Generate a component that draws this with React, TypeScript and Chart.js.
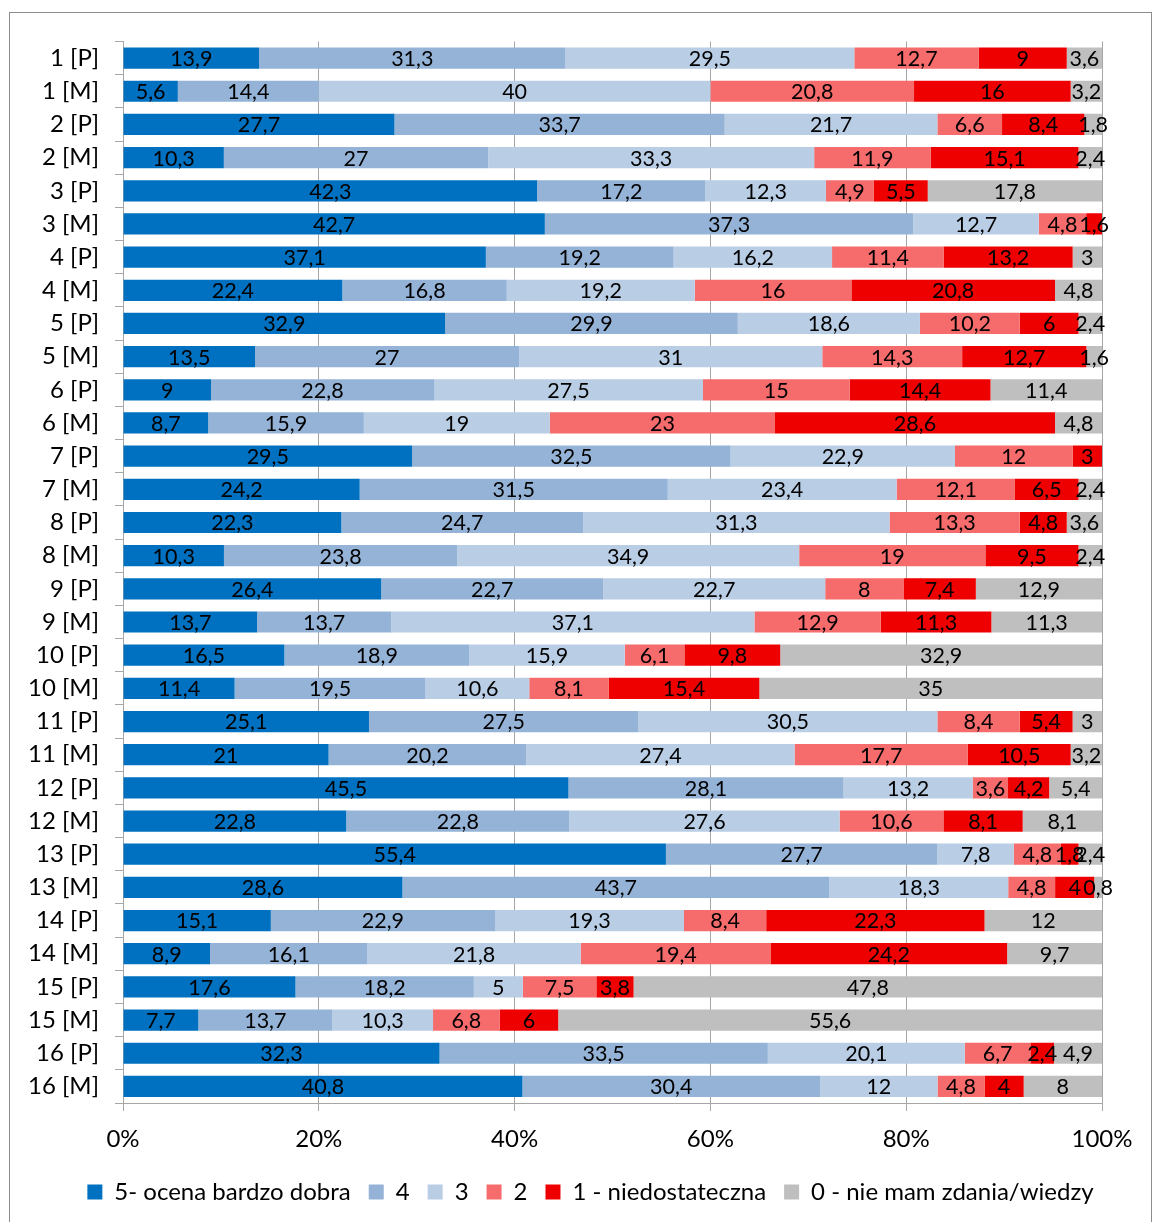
import React, { useEffect, useRef } from 'react';
import { Chart, registerables } from 'chart.js';

Chart.register(...registerables);

const categories = [
  '1 [P]', '1 [M]', '2 [P]', '2 [M]', '3 [P]', '3 [M]', '4 [P]', '4 [M]',
  '5 [P]', '5 [M]', '6 [P]', '6 [M]', '7 [P]', '7 [M]', '8 [P]', '8 [M]',
  '9 [P]', '9 [M]', '10 [P]', '10 [M]', '11 [P]', '11 [M]', '12 [P]', '12 [M]',
  '13 [P]', '13 [M]', '14 [P]', '14 [M]', '15 [P]', '15 [M]', '16 [P]', '16 [M]',
];

const seriesNames = ['5- ocena bardzo dobra', '4', '3', '2', '1 - niedostateczna', '0 - nie mam zdania/wiedzy'];
const seriesColors = ['#0070C0', '#95B3D7', '#B9CDE5', '#F66B6B', '#EE0000', '#BFBFBF'];

const grade5 = [13.9, 5.6, 27.7, 10.3, 42.3, 42.7, 37.1, 22.4, 32.9, 13.5, 9, 8.7, 29.5, 24.2, 22.3, 10.3, 26.4, 13.7, 16.5, 11.4, 25.1, 21, 45.5, 22.8, 55.4, 28.6, 15.1, 8.9, 17.6, 7.7, 32.3, 40.8];
const grade4 = [31.3, 14.4, 33.7, 27, 17.2, 37.3, 19.2, 16.8, 29.9, 27, 22.8, 15.9, 32.5, 31.5, 24.7, 23.8, 22.7, 13.7, 18.9, 19.5, 27.5, 20.2, 28.1, 22.8, 27.7, 43.7, 22.9, 16.1, 18.2, 13.7, 33.5, 30.4];
const grade3 = [29.5, 40, 21.7, 33.3, 12.3, 12.7, 16.2, 19.2, 18.6, 31, 27.5, 19, 22.9, 23.4, 31.3, 34.9, 22.7, 37.1, 15.9, 10.6, 30.5, 27.4, 13.2, 27.6, 7.8, 18.3, 19.3, 21.8, 5, 10.3, 20.1, 12];
const grade2 = [12.7, 20.8, 6.6, 11.9, 4.9, 4.8, 11.4, 16, 10.2, 14.3, 15, 23, 12, 12.1, 13.3, 19, 8, 12.9, 6.1, 8.1, 8.4, 17.7, 3.6, 10.6, 4.8, 4.8, 8.4, 19.4, 7.5, 6.8, 6.7, 4.8];
const grade1 = [9, 16, 8.4, 15.1, 5.5, 1.6, 13.2, 20.8, 6, 12.7, 14.4, 28.6, 3, 6.5, 4.8, 9.5, 7.4, 11.3, 9.8, 15.4, 5.4, 10.5, 4.2, 8.1, 1.8, 4, 22.3, 24.2, 3.8, 6, 2.4, 4];
const grade0 = [3.6, 3.2, 1.8, 2.4, 17.8, 0, 3, 4.8, 2.4, 1.6, 11.4, 4.8, 0, 2.4, 3.6, 2.4, 12.9, 11.3, 32.9, 35, 3, 3.2, 5.4, 8.1, 2.4, 0.8, 12, 9.7, 47.8, 55.6, 4.9, 8];

const xTickLabels = ['0%', '20%', '40%', '60%', '80%', '100%'];

const FONT = 'Lato, "Liberation Sans", sans-serif';

const rawSeries = [grade5, grade4, grade3, grade2, grade1, grade0];

const labelPlugin = {
  id: 'segLabels',
  afterDatasetsDraw(chart: any) {
    const ctx = chart.ctx;
    ctx.save();
    ctx.font = `21.5px ${FONT}`;
    ctx.fillStyle = '#000';
    ctx.textAlign = 'center';
    ctx.textBaseline = 'middle';
    chart.data.datasets.forEach((ds: any, di: number) => {
      const meta = chart.getDatasetMeta(di);
      meta.data.forEach((el: any, i: number) => {
        const v = ds.raw[i];
        if (!v) return;
        const cx = (el.x + el.base) / 2;
        ctx.fillText(String(v).replace('.', ','), cx, el.y + 1);
      });
    });
    ctx.restore();
  },
};

const framePlugin = {
  id: 'frame',
  beforeDraw(chart: any) {
    const ctx = chart.ctx;
    ctx.save();
    ctx.fillStyle = '#fff';
    ctx.fillRect(0, 0, chart.width, chart.height);
    ctx.strokeStyle = '#8c8c8c';
    ctx.lineWidth = 1;
    ctx.strokeRect(9.5, 12.5, 1142, 1220);
    ctx.restore();
  },
};

export default function App() {
  const ref = useRef<HTMLCanvasElement | null>(null);

  useEffect(() => {
    document.body.style.margin = '0';
    const canvas = ref.current;
    if (!canvas) return;
    const datasets = rawSeries.map((arr, si) => ({
      label: seriesNames[si],
      raw: arr,
      data: arr.map((v, i) => {
        const sum = rawSeries.reduce((a, s) => a + s[i], 0);
        return (v / sum) * 100;
      }),
      backgroundColor: seriesColors[si],
      borderWidth: 0,
      barPercentage: 0.64,
      categoryPercentage: 1,
    }));
    const chart = new Chart(canvas, {
      type: 'bar',
      data: { labels: categories, datasets: datasets as any },
      plugins: [framePlugin, labelPlugin],
      options: {
        indexAxis: 'y',
        animation: false,
        responsive: false,
        maintainAspectRatio: false,
        layout: { padding: { left: 28, right: 0, top: 41.5, bottom: 8 } },
        plugins: {
          tooltip: { enabled: false },
          legend: {
            position: 'bottom',
            labels: {
              color: '#000',
              font: { size: 24, family: FONT },
              boxWidth: 15,
              boxHeight: 15,
              padding: 18,
            },
          },
        },
        scales: {
          x: {
            stacked: true,
            min: 0,
            max: 100,
            afterFit(scale: any) { scale.height = 59; },
            border: { color: '#a6a6a6' },
            grid: { color: '#a6a6a6', tickLength: 8 },
            ticks: {
              stepSize: 20,
              color: '#000',
              font: { size: 24, family: FONT },
              padding: 14,
              callback: (_v: any, idx: number) => xTickLabels[idx],
            },
          },
          y: {
            stacked: true,
            afterFit(scale: any) { scale.width = 95; },
            border: { color: '#a6a6a6' },
            grid: { offset: true, drawOnChartArea: false, color: '#a6a6a6', tickLength: 8 },
            ticks: {
              color: '#000',
              font: { size: 24, family: FONT },
              padding: 16,
            },
          },
          yRight: {
            type: 'category',
            position: 'right',
            afterFit(scale: any) { scale.width = 51; },
            grid: { display: false },
            border: { display: false },
            ticks: { display: false },
          },
        },
      },
    });
    return () => chart.destroy();
  }, []);

  return (
    <div style={{ width: 1153, height: 1222 }}>
      <canvas ref={ref} width={1153} height={1222} style={{ display: 'block' }} />
    </div>
  );
}
